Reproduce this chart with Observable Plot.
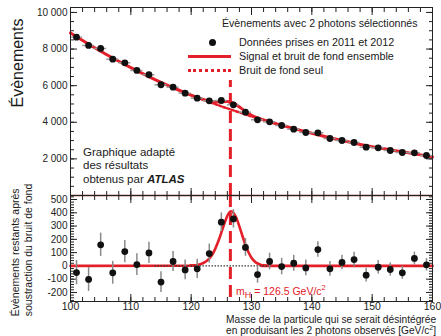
<!DOCTYPE html>
<html><head><meta charset="utf-8">
<script src="https://cdn.jsdelivr.net/npm/d3@7"></script>
<script src="https://cdn.jsdelivr.net/npm/@observablehq/plot@0.6"></script>
<style>
body{margin:0;background:#fff;font-family:"Liberation Sans",Arial,sans-serif;}
#wrap{position:relative;width:441px;height:336px;overflow:hidden;background:#fff;}
#wrap svg{position:absolute;left:0;top:0;}
.t{position:absolute;white-space:nowrap;color:#1a1a1a;line-height:1;}
</style></head><body><div id="wrap"></div>
<script>
// ---- data ----
const masses = [101,103,105,107,109,111,113,115,117,119,121,123,125,127,129,131,133,135,137,139,141,143,145,147,149,151,153,155,157,159];
const eventsTop = [8650,8196,8032,7448,7250,6830,6595,6049,5918,5590,5317,5173,5190,4955,4553,4135,4025,3825,3624,3442,3424,3114,3005,2896,2640,2606,2459,2350,2333,2186];
const residuals = [-50,-102,159,-52,108,10,98,-122,33,-30,-22,93,329,354,139,-65,33,-5,20,-15,123,-22,26,48,-70,-10,-27,-52,56,8];
const residualErr = [92,90,88,86,84,82,80,78,76,74,73,71,70,69,67,65,63,62,60,59,58,56,55,54,52,51,50,49,48,47];

const bgMass = [119,120,121,122,123,124,125,126,127,128,129,130,131,132,133,134];
const bgVals = [5615,5480,5355,5230,5110,4990,4870,4760,4650,4540,4430,4320,4220,4120,4025,3930];

const fitMass = [100,105,110,115,118,119,120,121,122,123,124,125,126,127,128,129,130,131,132,133,134,135,140,145,150,155,160];
const fitVals = [8880,7880,6990,6180,5750,5616,5483,5363,5252,5165,5120,5120,5138,5050,4835,4588,4382,4238,4124,4026,3930,3840,3400,3000,2660,2390,2110];

const sigMass = [100,119,120,120.5,121,121.5,122,122.5,123,123.5,124,124.5,125,125.5,126,126.5,127,127.5,128,128.5,129,129.5,130,130.5,131,131.5,132,133,134,160];
const sigVals = [0,1,3,5,8,13,22,35,55,85,130,185,250,318,378,410,400,360,295,225,158,103,62,35,18,9,4,1,0,0];

const mH = 126.5;
const mHLineTop = 6280;

const topTicks = [2000,4000,6000,8000,10000];
const topTickLabels = ["2 000","4 000","6 000","8 000","10 000"];
const resTicks = [-200,-100,0,100,200,300,400,500];
const resTickLabels = ["-200","-100","0","100","200","300","400","500"];
const xTicks = [100,110,120,130,140,150,160];
const xTickLabels = ["100","110","120","130","140","150","160"];

// ---- build ----
const pts = masses.map((m,i)=>({m, v:eventsTop[i], r:residuals[i], e:residualErr[i]}));
const bg = bgMass.map((m,i)=>({m, v:bgVals[i]}));
const fit = fitMass.map((m,i)=>({m, v:fitVals[i]}));
const sig = sigMass.map((m,i)=>({m, v:sigVals[i]}));

const red = "#e3202a";
const ink = "#222";
const W = 441, H = 336;
const xDomain = [100,160];
const minorX = d3.range(100,161,2);
const minorTop = d3.range(0,10001,500);
const minorRes = d3.range(-260,521,20);
const blank = () => "";
const common = {width:W, height:H, marginLeft:70, marginRight:9,
  style:{background:"transparent", fontFamily:"Liberation Sans, Arial, sans-serif", fontSize:"10px", color:ink, overflow:"visible"}};

function frameTicks(yMajor, yMinor) {
  return [
    Plot.axisY({ticks: yMajor, tickSize:-7, tickFormat: blank, label:null, anchor:"left"}),
    Plot.axisY({ticks: yMinor, tickSize:-4, tickFormat: blank, label:null, anchor:"left"}),
    Plot.axisY({ticks: yMajor, tickSize:-7, tickFormat: blank, label:null, anchor:"right"}),
    Plot.axisY({ticks: yMinor, tickSize:-4, tickFormat: blank, label:null, anchor:"right"}),
    Plot.axisX({ticks: xTicks, tickSize:-7, tickFormat: blank, label:null, anchor:"top"}),
    Plot.axisX({ticks: minorX, tickSize:-4, tickFormat: blank, label:null, anchor:"top"}),
    Plot.axisX({ticks: xTicks, tickSize:-7, tickFormat: blank, label:null, anchor:"bottom"}),
    Plot.axisX({ticks: minorX, tickSize:-4, tickFormat: blank, label:null, anchor:"bottom"})
  ];
}

const topPlot = Plot.plot({
  ...common, marginTop:7, marginBottom:141,
  x:{domain:xDomain},
  y:{domain:[0,10270]},
  marks:[
    ...frameTicks(topTicks, minorTop),
    Plot.axisY({ticks: topTicks, tickSize:0, tickPadding:3, tickFormat:(d)=>topTickLabels[topTicks.indexOf(d)], label:null, fontSize:10}),
    Plot.ruleX([mH], {y1:0, y2:mHLineTop, stroke:red, strokeWidth:3, strokeDasharray:"12,6"}),
    Plot.line(bg, {x:"m", y:"v", stroke:red, strokeWidth:2.5, strokeDasharray:"2.5,2", curve:"natural"}),
    Plot.line(fit, {x:"m", y:"v", stroke:red, strokeWidth:3, curve:"natural"}),
    Plot.ruleY(pts, {y:"v", x1:d=>d.m-1, x2:d=>d.m+1, stroke:"#9a9a9a", strokeWidth:1.5}),
    Plot.dot(pts, {x:"m", y:"v", r:3.4, fill:"#111"}),
    Plot.frame({stroke:ink}),
    Plot.ruleY([0], {stroke:"#7a1d1d", strokeWidth:1.6})
  ]
});

const botPlot = Plot.plot({
  ...common, marginTop:195, marginBottom:35,
  x:{domain:xDomain},
  y:{domain:[-268,530]},
  marks:[
    ...frameTicks(resTicks, minorRes),
    Plot.axisY({ticks: resTicks, tickSize:0, tickPadding:3, tickFormat:(d)=>resTickLabels[resTicks.indexOf(d)], label:null, fontSize:10}),
    Plot.axisX({ticks: xTicks, tickSize:0, tickPadding:1, tickFormat:(d)=>xTickLabels[xTicks.indexOf(d)], label:null, fontSize:10.5}),
    Plot.line(sig, {x:"m", y:"v", stroke:red, strokeWidth:2.6, curve:"natural"}),
    Plot.ruleY([0], {x1:114, x2:133, stroke:"#333", strokeWidth:1.2, strokeDasharray:"1.5,1.5"}),
    Plot.ruleX([mH], {stroke:red, strokeWidth:3, strokeDasharray:"12,6"}),
    Plot.ruleX(pts, {x:"m", y1:d=>d.r-d.e, y2:d=>d.r+d.e, stroke:"#8a8a8a", strokeWidth:1.5}),
    Plot.dot(pts, {x:"m", y:"r", r:3.4, fill:"#111"}),
    Plot.frame({stroke:ink})
  ]
});

const wrap = document.getElementById("wrap");
wrap.appendChild(topPlot);
wrap.appendChild(botPlot);

function addText(html, css) {
  const d = document.createElement("div");
  d.className = "t";
  d.innerHTML = html;
  Object.assign(d.style, css);
  wrap.appendChild(d);
  return d;
}
// Y labels
addText("Évènements", {left:"18px", top:"63px", fontSize:"16px", transform:"translate(-50%,-50%) rotate(-90deg)"});
addText("Évènements restants après<br>soustraction du bruit de fond",
  {left:"21px", top:"250px", fontSize:"10.5px", lineHeight:"12.5px", textAlign:"left", transform:"translate(-50%,-50%) rotate(-90deg)"});
// Legend
addText("Évènements avec 2 photons sélectionnés", {left:"222px", top:"18px", fontSize:"10.6px"});
addText("Données prises en 2011 et 2012", {left:"239px", top:"37px", fontSize:"10.8px"});
addText("Signal et bruit de fond ensemble", {left:"239px", top:"51px", fontSize:"10.8px"});
addText("Bruit de fond seul", {left:"239px", top:"65px", fontSize:"10.8px"});
addText("", {left:"208.5px", top:"38.5px", width:"7px", height:"7px", borderRadius:"50%", background:"#111"});
addText("", {left:"188px", top:"55px", width:"43px", height:"0", borderTop:"3px solid "+red});
addText("", {left:"188px", top:"69px", width:"43px", height:"0", borderTop:"3px dotted "+red});
// Annotation
addText("Graphique adapté<br>des résultats<br>obtenus par <b><i>ATLAS</i></b>",
  {left:"83px", top:"146px", fontSize:"11.5px", lineHeight:"13.3px"});
// mH label
addText("m<sub style='font-size:9px;vertical-align:-3px'>H</sub> = 126.5 GeV/c<sup style='font-size:7.5px;vertical-align:5px'>2</sup>",
  {left:"236px", top:"284px", fontSize:"10.5px", color:red});
// X label
addText("Masse de la particule qui se serait désintégrée<br>en produisant les 2 photons observés [GeV/c<sup style='font-size:7px;vertical-align:4px;line-height:0'>2</sup>]",
  {left:"226px", top:"313.5px", fontSize:"10.2px", lineHeight:"11.2px"});
</script>
</body></html>
